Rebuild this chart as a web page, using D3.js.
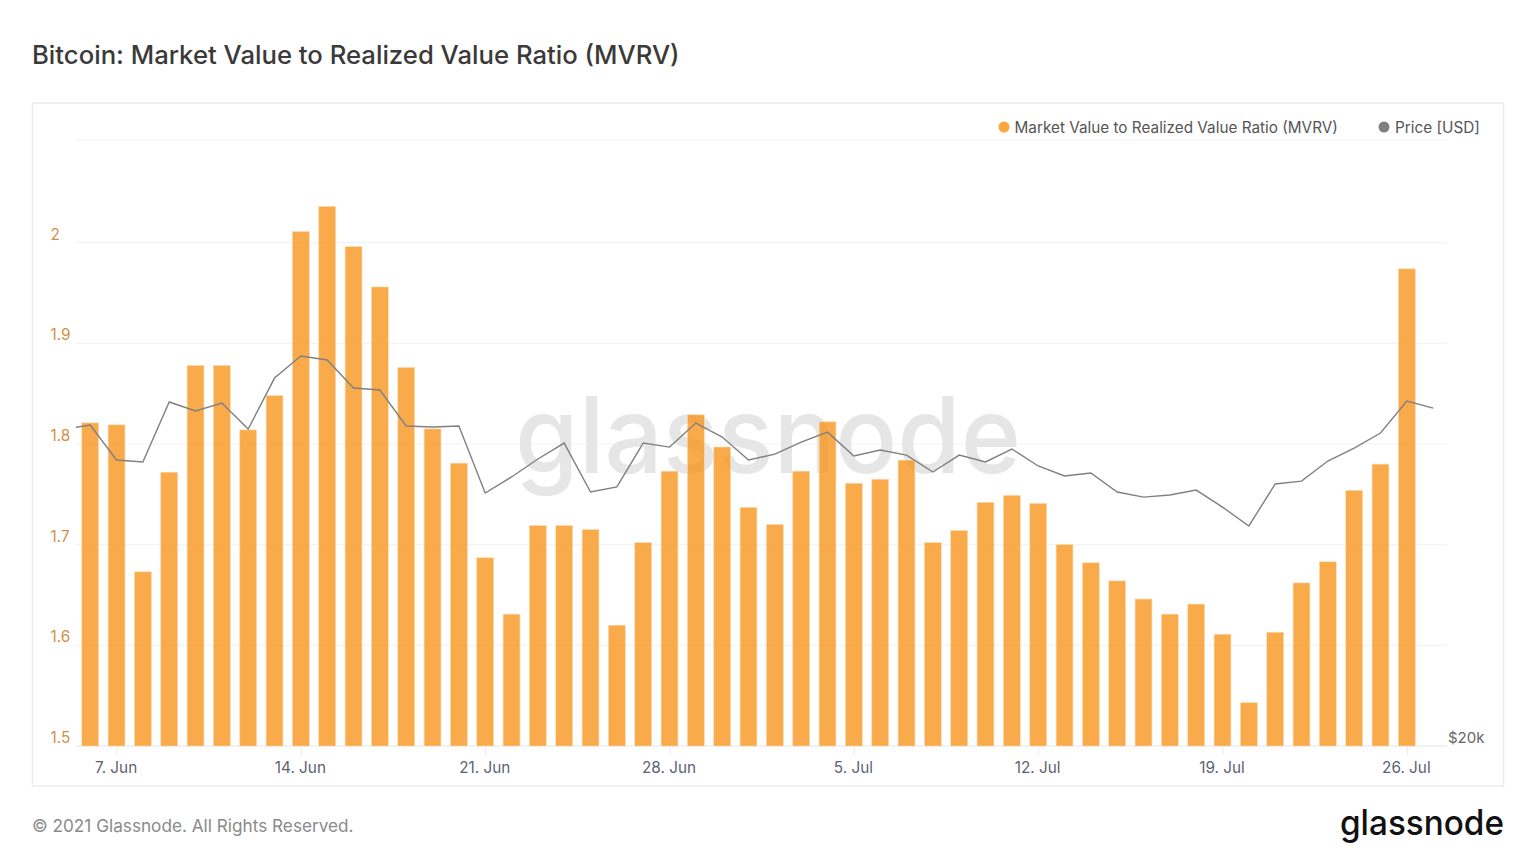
<!DOCTYPE html>
<html>
<head>
<meta charset="utf-8">
<script src="https://cdn.jsdelivr.net/npm/d3@7"></script>
<style>
  html, body { margin: 0; background: #fff; }
  svg { display: block; font-family: Inter, "Noto Sans", sans-serif; }
  .domain { display: none; }
</style>
</head>
<body>
<div id="chart"></div>
<script>
var mvrv = [1.821, 1.819, 1.673, 1.772, 1.878, 1.878, 1.814, 1.848, 2.011, 2.036,
    1.996, 1.956, 1.876, 1.815, 1.781, 1.687, 1.631, 1.719, 1.719, 1.715,
    1.620, 1.702, 1.773, 1.829, 1.797, 1.737, 1.720, 1.773, 1.822, 1.761,
    1.765, 1.784, 1.702, 1.714, 1.742, 1.749, 1.741, 1.700, 1.682, 1.664,
    1.646, 1.631, 1.641, 1.611, 1.543, 1.613, 1.662, 1.683, 1.754, 1.780, 1.974];

// starts one day before the first bar, ends one day after the last
var price = [35440, 35690, 33510, 33390, 37210, 36610, 37140, 35440, 38850, 40430, 40140,
    38160, 38020, 35630, 35570, 35630, 31570, 32500, 33570, 34550, 31630,
    31920, 34550, 34300, 35820, 34930, 33510, 33870, 34610, 35240, 33750,
    34120, 33810, 32790, 33810, 33390, 34180, 33150, 32560, 32730, 31630,
    31340, 31460, 31740, 30780, 29750, 32090, 32260, 33450, 34240, 35180, 37270, 36800];

var mvrvTicks = [1.5, 1.6, 1.7, 1.8, 1.9, 2];
var gridTicks = [1.5, 1.6, 1.7, 1.8, 1.9, 2, 2.102];
var dateTicks = ["2021-06-07", "2021-06-14", "2021-06-21", "2021-06-28", "2021-07-05", "2021-07-12", "2021-07-19", "2021-07-26"];

var width = 1536, height = 864;
var left = 76, right = 1447, top_ = 140, bottom = 746;

var barDays = d3.utcDay.range(new Date(Date.UTC(2021, 5, 6)), new Date(Date.UTC(2021, 6, 27)));
var priceDays = d3.utcDay.range(new Date(Date.UTC(2021, 5, 5)), new Date(Date.UTC(2021, 6, 28)));

var x = d3.scaleUtc()
    .domain([new Date(Date.UTC(2021, 5, 5, 11, 3)), new Date(Date.UTC(2021, 6, 27, 12, 36))])
    .range([left, right]);
var y = d3.scaleLinear().domain([1.5, 2.102]).range([bottom, top_]);
var yPrice = d3.scaleLog().domain([20000, 59700]).range([bottom, top_]);

var svg = d3.select("#chart").append("svg")
    .attr("width", width)
    .attr("height", height);

svg.append("text")
    .attr("x", 32).attr("y", 64)
    .attr("font-size", 25.7).attr("font-weight", 500).attr("fill", "#3a3a3a")
    .text("Bitcoin: Market Value to Realized Value Ratio (MVRV)");

svg.append("rect")
    .attr("x", 32.5).attr("y", 103).attr("width", 1471).attr("height", 683)
    .attr("fill", "#fff").attr("stroke", "#ececec").attr("stroke-width", 1.5);

svg.append("defs").append("clipPath").attr("id", "plot")
    .append("rect").attr("x", left).attr("y", top_).attr("width", right - left).attr("height", bottom - top_);

// grid
svg.append("g").selectAll("line")
    .data(gridTicks)
    .enter().append("line")
    .attr("x1", left).attr("x2", right)
    .attr("y1", y).attr("y2", y)
    .attr("stroke", function(d) { return d == 1.5 ? "#e6e6e6" : "#f3f3f3"; })
    .attr("stroke-width", 1.2);

// watermark
svg.append("text")
    .attr("x", 768).attr("y", 473)
    .attr("text-anchor", "middle")
    .attr("font-family", "Inter, sans-serif")
    .attr("font-size", 106).attr("font-weight", 500).attr("fill", "#e6e6e6")
    .attr("textLength", 506).attr("lengthAdjust", "spacingAndGlyphs")
    .text("glassnode");

var barW = (x(barDays[1]) - x(barDays[0])) * 0.64;

svg.append("g").selectAll("rect")
    .data(mvrv)
    .enter().append("rect")
    .attr("x", function(d, i) { return x(barDays[i]) - barW / 2; })
    .attr("y", function(d) { return y(d); })
    .attr("width", barW)
    .attr("height", function(d) { return y(1.5) - y(d); })
    .attr("fill", "#f7931a")
    .attr("fill-opacity", 0.78)
    .attr("stroke", "#fdd9ac")
    .attr("stroke-width", 0.6);

var line = d3.line()
    .x(function(d, i) { return x(priceDays[i]); })
    .y(function(d) { return yPrice(d); });

svg.append("path")
    .datum(price)
    .attr("clip-path", "url(#plot)")
    .attr("fill", "none")
    .attr("stroke", "#808080")
    .attr("stroke-width", 1.4)
    .attr("d", line);

// axes
var xAxis = svg.append("g")
    .attr("transform", "translate(0," + bottom + ")")
    .call(d3.axisBottom(x)
        .tickValues(dateTicks.map(function(d) { return new Date(d + "T00:00:00Z"); }))
        .tickSize(9).tickPadding(7)
        .tickFormat(d3.utcFormat("%-d. %b")));
xAxis.selectAll("line").attr("stroke", "#eaeaea");
xAxis.selectAll("text").attr("dx", -1).attr("font-size", 15.3).attr("fill", "#5c6270").attr("font-family", "Inter");

var yAxis = svg.append("g")
    .attr("transform", "translate(50.5,0)")
    .call(d3.axisRight(y).tickValues(mvrvTicks).tickSize(0).tickPadding(0).tickFormat(d3.format("~g")));
yAxis.selectAll("text").attr("dy", -3.5).attr("font-size", 15.3).attr("fill", "#cf9148").attr("font-family", "Inter");

var priceAxis = svg.append("g")
    .attr("transform", "translate(1448,0)")
    .call(d3.axisRight(yPrice).tickValues([20000]).tickSize(0).tickPadding(0)
        .tickFormat(function(d) { return "$" + d / 1000 + "k"; }));
priceAxis.selectAll("text").attr("dy", -3.5).attr("font-size", 15).attr("fill", "#666").attr("font-family", "Inter");

// legend
var legend = [
    { label: "Market Value to Realized Value Ratio (MVRV)", color: "#fba63f", cx: 1004, tx: 1014.5 },
    { label: "Price [USD]", color: "#808080", cx: 1384, tx: 1395 }
];
var lg = svg.append("g").selectAll("g").data(legend).enter().append("g");
lg.append("circle")
    .attr("cx", function(d) { return d.cx; }).attr("cy", 127).attr("r", 5.5)
    .attr("fill", function(d) { return d.color; });
lg.append("text")
    .attr("x", function(d) { return d.tx; }).attr("y", 132.5)
    .attr("font-size", 15.3).attr("fill", "#555")
    .text(function(d) { return d.label; });

// footer
svg.append("text")
    .attr("x", 32).attr("y", 831.5)
    .attr("font-size", 17.2).attr("fill", "#8a8a8a")
    .text("© 2021 Glassnode. All Rights Reserved.");

svg.append("text")
    .attr("x", 1504).attr("y", 835)
    .attr("text-anchor", "end")
    .attr("font-family", "Inter, sans-serif")
    .attr("font-size", 35).attr("font-weight", 500).attr("fill", "#111")
    .attr("textLength", 164).attr("lengthAdjust", "spacingAndGlyphs")
    .text("glassnode");
</script>
</body>
</html>
